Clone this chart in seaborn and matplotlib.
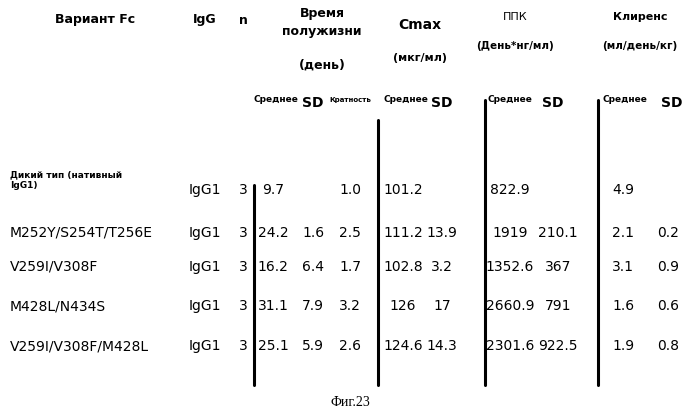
import matplotlib
matplotlib.use("Agg")
import matplotlib.pyplot as plt
import seaborn as sns

variants = ["Дикий тип (нативный\nIgG1)", "M252Y/S254T/T256E", "V259I/V308F", "M428L/N434S", "V259I/V308F/M428L"]
igg = ["IgG1"] * 5
n_vals = [3, 3, 3, 3, 3]
half_mean = ["9.7", "24.2", "16.2", "31.1", "25.1"]
half_sd = ["", "1.6", "6.4", "7.9", "5.9"]
half_ratio = ["1.0", "2.5", "1.7", "3.2", "2.6"]
cmax_mean = ["101.2", "111.2", "102.8", "126", "124.6"]
cmax_sd = ["", "13.9", "3.2", "17", "14.3"]
auc_mean = ["822.9", "1919", "1352.6", "2660.9", "2301.6"]
auc_sd = ["", "210.1", "367", "791", "922.5"]
cl_mean = ["4.9", "2.1", "3.1", "1.6", "1.9"]
cl_sd = ["", "0.2", "0.9", "0.6", "0.8"]

sns.set_theme(style="white")
fig = plt.figure(figsize=(7, 4.18), dpi=100)
ax = fig.add_axes([0, 0, 1, 1])
ax.set_xlim(0, 700); ax.set_ylim(418, 0); ax.axis("off")
F = "DejaVu Sans"

def t(x, y, s, size=9, weight="normal", ha="center", va="center", **kw):
    ax.text(x, y, s, fontsize=size, fontweight=weight, ha=ha, va=va, family=F, color="black", **kw)

# headers
t(95, 20, "Вариант Fc", 9, "bold")
t(205, 20, "IgG", 9, "bold")
t(243, 20, "n", 9, "bold")
t(322, 22, "Время\nполужизни", 9, "bold", linespacing=1.5)
t(322, 65, "(день)", 9, "bold")
t(420, 25, "Cmax", 10, "bold")
t(420, 58, "(мкг/мл)", 8, "bold")
t(515, 17, "ППК", 8)
t(515, 46, "(День*нг/мл)", 7.5, "bold")
t(640, 17, "Клиренс", 8, "bold")
t(640, 46, "(мл/день/кг)", 7.5, "bold")
for x, s, sz in [(276, "Среднее", 6.5), (313, "SD", 10), (350, "Кратность", 5),
                 (406, "Среднее", 6.5), (442, "SD", 10), (510, "Среднее", 6.5),
                 (553, "SD", 10), (625, "Среднее", 6.5), (672, "SD", 10)]:
    t(x, 100 if sz != 10 else 103, s, sz, "bold")

# vertical rules
for x, y0, y1 in [(254, 185, 385), (378, 120, 385), (485, 100, 385), (598, 100, 385)]:
    ax.plot([x, x], [y0, y1], color="black", lw=2.2)

rows_y = [190, 233, 267, 306, 346]
for i, y in enumerate(rows_y):
    if i == 0:
        t(10, 180, variants[i], 6.5, "bold", ha="left", linespacing=1.3)
    else:
        t(10, y, variants[i], 10, ha="left")
    t(205, y, igg[i], 10)
    t(243, y, str(n_vals[i]), 10)
    cols = [(273, half_mean), (313, half_sd), (350, half_ratio), (403, cmax_mean),
            (442, cmax_sd), (510, auc_mean), (558, auc_sd), (623, cl_mean), (668, cl_sd)]
    for x, arr in cols:
        if arr[i]:
            t(x, y, arr[i], 10)

ax.text(350, 402, "Фиг.23", fontsize=10, ha="center", va="center", family="Liberation Serif", color="black")
fig.savefig("out.png", dpi=100, facecolor="white")
